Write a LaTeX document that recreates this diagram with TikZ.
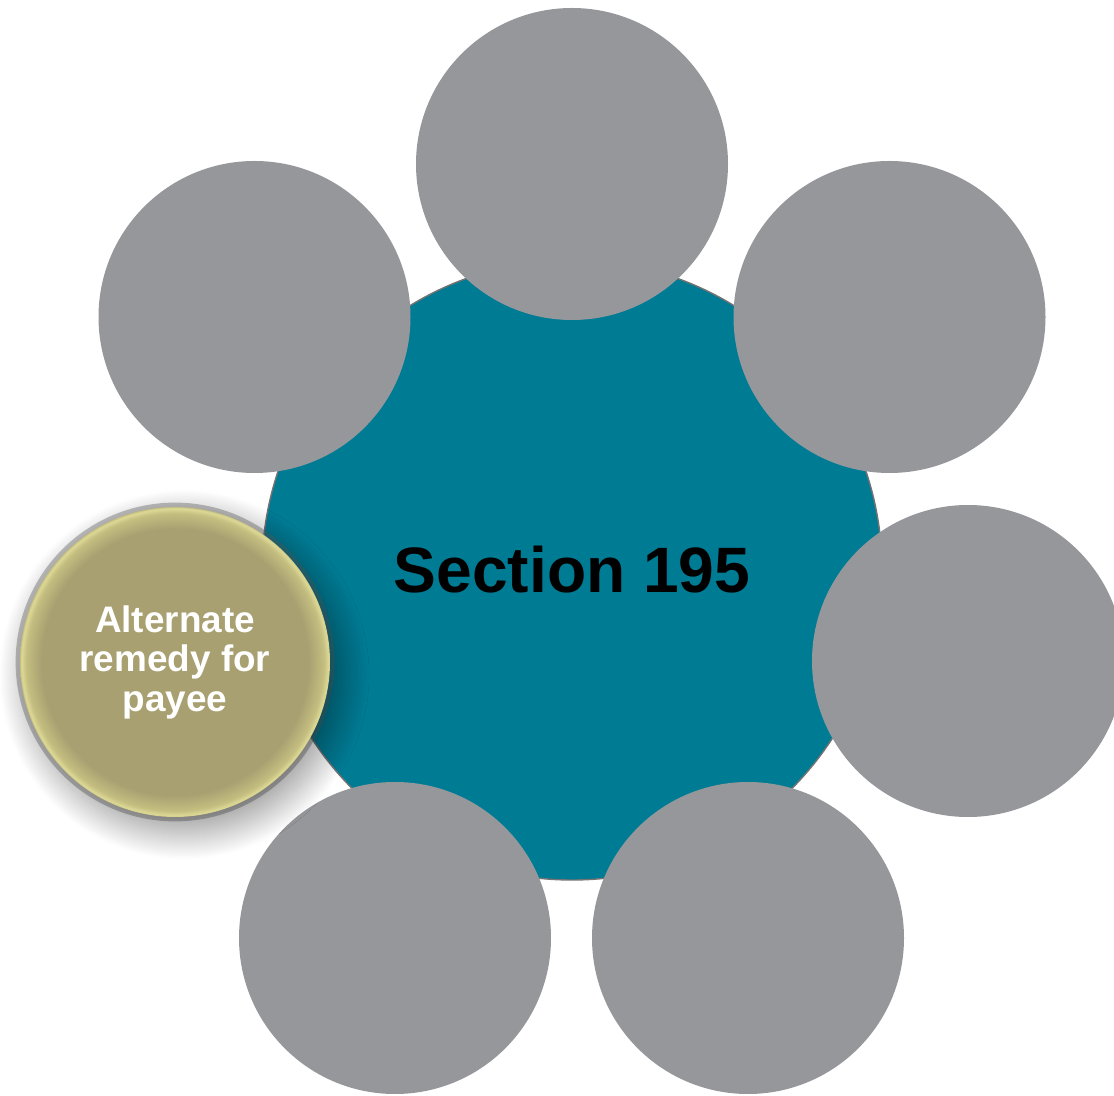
\documentclass[tikz,border=0pt]{standalone}
\usepackage{fontspec}
\setmainfont{Liberation Sans}
\usepackage{tikz}
\usetikzlibrary{shadows.blur}

\definecolor{hubteal}{RGB}{0,123,148}
\definecolor{satgray}{RGB}{150,151,155}
\definecolor{goldfill}{RGB}{168,160,113}
\definecolor{goldedge}{RGB}{196,190,128}
\definecolor{goldrim}{RGB}{222,218,150}
\pgfdeclareradialshading{goldbevel}{\pgfpoint{0bp}{0bp}}{color(0bp)=(goldfill); color(21.5bp)=(goldfill); color(24bp)=(goldedge); color(24.8bp)=(goldrim); color(25bp)=(goldedge); color(50bp)=(goldedge)}

\tikzset{
	hub/.style={circle, fill=hubteal, draw=gray!90!black, line width=0.8pt, minimum size=12.4cm, inner sep=0pt, font=\bfseries\fontsize{36.5}{40}\selectfont},
	sat/.style={circle, fill=satgray, minimum size=6.24cm, inner sep=0pt},
	goldsat/.style={circle, shading=goldbevel, minimum size=6.2cm, inner sep=0pt, text=white, align=center, font=\bfseries\fontsize{21}{22.5}\selectfont,
		preaction={draw=black!60, draw opacity=0.4, line width=5pt},
		blur shadow={shadow xshift=5pt, shadow yshift=-7pt, shadow blur radius=14pt, shadow blur steps=40, shadow opacity=38, shadow scale=1.03}}
}

\begin{document}
\begin{tikzpicture}
				\useasboundingbox (0,0) rectangle (22.28,21.9);
				\clip (0,0) rectangle (22.28,21.9);
				% centre
				\node[hub] (sec) at (11.44,10.5) {Section 195};
				% ring of circles
				\node[sat] (top) at (11.44,18.62) {};
				\node[sat] (upleft) at (5.09,15.56) {};
				\node[sat] (upright) at (17.79,15.56) {};
				\node[sat] (right) at (19.36,8.68) {};
				\node[sat] (lowright) at (14.96,3.14) {};
				\node[sat] (lowleft) at (7.90,3.14) {};
				\node[goldsat] (remedy) at (3.50,8.66) {Alternate\\remedy for\\payee};
\end{tikzpicture}
\end{document}
